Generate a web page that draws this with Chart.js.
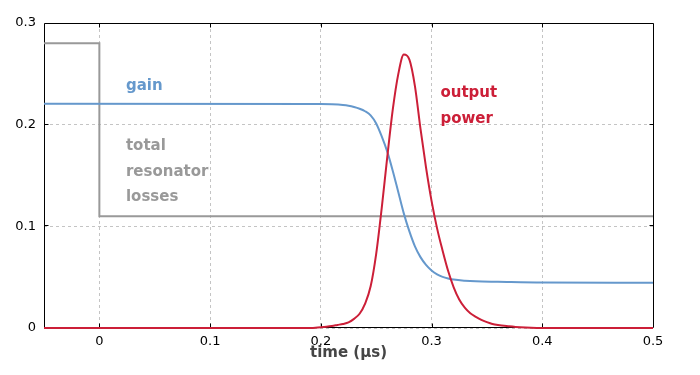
<!DOCTYPE html>
<html>
<head>
<meta charset="utf-8">
<script src="https://cdn.jsdelivr.net/npm/chart.js@4"></script>
<style>
  html, body { margin: 0; padding: 0; background: #fff; }
  canvas { display: block; }
</style>
</head>
<body>
<canvas id="chart" width="700" height="375"></canvas>
<script>
// time axis in microseconds
const xTicks = [0, 0.1, 0.2, 0.3, 0.4, 0.5];
const yTicks = [0, 0.1, 0.2, 0.3];

// total resonator losses (step at t = 0)
const lossTime = [-0.05, 0, 0, 0.5];
const lossValue = [0.28, 0.28, 0.11, 0.11];

// gain
const gainTime = [-0.05, 0.20, 0.21, 0.22, 0.225, 0.23, 0.235, 0.24, 0.245, 0.25, 0.255,
    0.26, 0.265, 0.27, 0.275, 0.28, 0.285, 0.29, 0.295, 0.30, 0.305, 0.31, 0.315, 0.32,
    0.33, 0.34, 0.36, 0.40, 0.5];
const gainValue = [0.2205, 0.2203, 0.2200, 0.2193, 0.2186, 0.2174, 0.2157, 0.2132, 0.2092, 0.2012, 0.1885,
    0.1735, 0.1545, 0.1335, 0.1125, 0.0950, 0.0803, 0.0697, 0.0621, 0.0566, 0.0528, 0.0503, 0.0487, 0.0476,
    0.0465, 0.0459, 0.0455, 0.0448, 0.0446];

// output power
const powerTime = [-0.05, 0.19, 0.20, 0.205, 0.21, 0.215, 0.22, 0.225, 0.23, 0.235, 0.24,
    0.245, 0.25, 0.255, 0.26, 0.265, 0.27, 0.275, 0.28, 0.285, 0.29, 0.295, 0.30,
    0.305, 0.31, 0.315, 0.32, 0.325, 0.33, 0.335, 0.34, 0.345, 0.35, 0.355, 0.36,
    0.37, 0.38, 0.39, 0.40, 0.5];
const powerValue = [0, 0, 0.0008, 0.0013, 0.0020, 0.0030, 0.0040, 0.0055, 0.0090, 0.0140, 0.0240,
    0.041, 0.073, 0.118, 0.168, 0.215, 0.250, 0.269, 0.264, 0.238, 0.196, 0.158, 0.125,
    0.098, 0.076, 0.056, 0.040, 0.028, 0.020, 0.0145, 0.011, 0.008, 0.0058, 0.0040, 0.0030,
    0.0018, 0.0008, 0.0002, 0, 0];

const colors = {
    gain: '#6598cc',
    power: '#cc1f38',
    losses: '#999999',
    title: '#454545'
};

const toPoints = (xs, ys) => xs.map((x, i) => ({ x: x, y: ys[i] }));

// curve labels placed in data coordinates
const curveLabels = [
    { text: 'gain', x: 0.024, y: 0.234, color: colors.gain },
    { text: 'total', x: 0.024, y: 0.175, color: colors.losses },
    { text: 'resonator', x: 0.024, y: 0.150, color: colors.losses },
    { text: 'losses', x: 0.024, y: 0.125, color: colors.losses },
    { text: 'output', x: 0.308, y: 0.2275, color: colors.power },
    { text: 'power', x: 0.308, y: 0.202, color: colors.power }
];

// black frame with short inward ticks
const framePlugin = {
    id: 'frame',
    beforeDatasetsDraw(chart) {
        const { ctx, chartArea: a, scales } = chart;
        const l = a.left + 0.5, r = a.right + 0.5, t = a.top + 0.5, b = a.bottom - 0.5;
        ctx.save();
        ctx.strokeStyle = '#000';
        ctx.lineWidth = 1;
        ctx.beginPath();
        ctx.rect(l, t, r - l, b - t);
        xTicks.slice(0, -1).forEach(v => {
            const px = Math.round(scales.x.getPixelForValue(v)) + 0.5;
            ctx.moveTo(px, b); ctx.lineTo(px, b - 4);
            ctx.moveTo(px, t); ctx.lineTo(px, t + 4);
        });
        yTicks.slice(1, -1).forEach(v => {
            const py = Math.round(scales.y.getPixelForValue(v)) - 0.5;
            ctx.moveTo(l, py); ctx.lineTo(l + 4, py);
            ctx.moveTo(r, py); ctx.lineTo(r - 4, py);
        });
        ctx.stroke();
        ctx.restore();
    },
    afterDraw(chart) {
        const { ctx, scales } = chart;
        ctx.save();
        ctx.font = 'bold 15px "DejaVu Sans"';
        ctx.textAlign = 'left';
        ctx.textBaseline = 'alphabetic';
        curveLabels.forEach(lb => {
            ctx.fillStyle = lb.color;
            ctx.fillText(lb.text, scales.x.getPixelForValue(lb.x), scales.y.getPixelForValue(lb.y));
        });
        ctx.restore();
    }
};

const lineStyle = {
    pointRadius: 0,
    borderWidth: 2,
    fill: false,
    clip: 4
};

new Chart(document.getElementById('chart'), {
    type: 'line',
    data: {
        datasets: [
            Object.assign({
                label: 'output power',
                data: toPoints(powerTime, powerValue),
                borderColor: colors.power,
                cubicInterpolationMode: 'monotone',
                order: 0
            }, lineStyle),
            Object.assign({
                label: 'gain',
                data: toPoints(gainTime, gainValue),
                borderColor: colors.gain,
                cubicInterpolationMode: 'monotone',
                order: 1
            }, lineStyle),
            Object.assign({
                label: 'total resonator losses',
                data: toPoints(lossTime, lossValue),
                borderColor: colors.losses,
                tension: 0,
                order: 2
            }, lineStyle)
        ]
    },
    plugins: [framePlugin],
    options: {
        responsive: false,
        animation: false,
        devicePixelRatio: 1,
        layout: { padding: { top: 23, right: 47, left: 0, bottom: 0 } },
        plugins: {
            legend: { display: false },
            tooltip: { enabled: false }
        },
        scales: {
            x: {
                type: 'linear',
                min: -0.05,
                max: 0.5,
                afterBuildTicks: (s) => { s.ticks = xTicks.map(v => ({ value: v })); },
                afterFit: (s) => { s.height = 47; },
                grid: { color: '#c4c4c4', lineWidth: 1, drawTicks: false },
                border: { display: false, dash: [3, 3] },
                ticks: {
                    padding: 6,
                    color: '#000',
                    font: { family: 'DejaVu Sans', size: 13 },
                    maxRotation: 0,
                    callback: (v) => String(Math.round(v * 10) / 10)
                },
                title: {
                    display: true,
                    text: 'time (µs)',
                    color: colors.title,
                    font: { family: 'DejaVu Sans', size: 15, weight: 'bold' },
                    padding: { top: 0, bottom: 13 }
                }
            },
            y: {
                type: 'linear',
                min: 0,
                max: 0.3,
                afterBuildTicks: (s) => { s.ticks = yTicks.map(v => ({ value: v })); },
                afterFit: (s) => { s.width = 44; },
                grid: { color: '#c4c4c4', lineWidth: 1, drawTicks: false },
                border: { display: false, dash: [3, 3] },
                ticks: {
                    padding: 8,
                    color: '#000',
                    font: { family: 'DejaVu Sans', size: 13 },
                    callback: (v) => String(Math.round(v * 10) / 10)
                }
            }
        }
    }
});
</script>
</body>
</html>
